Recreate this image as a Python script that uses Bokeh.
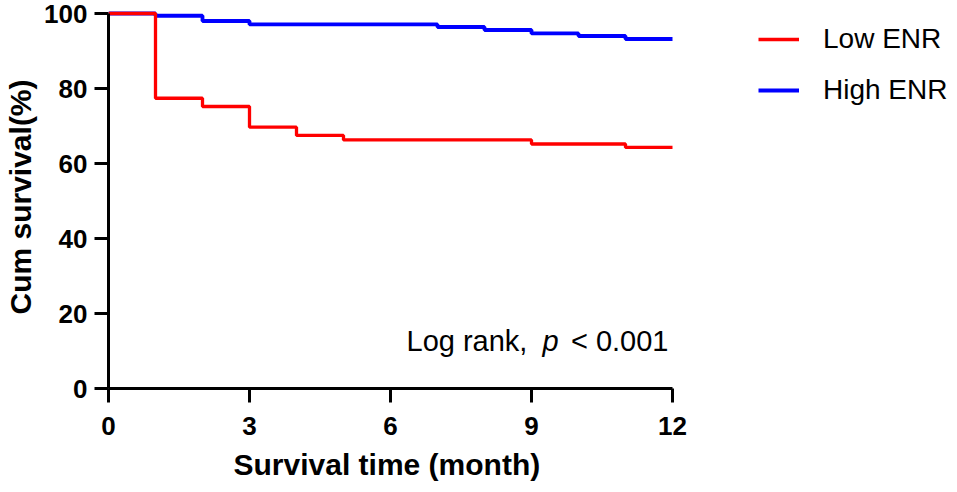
from bokeh.plotting import figure
from bokeh.models import Range1d, FixedTicker, Legend, LegendItem, Label, Title
from bokeh.embed import file_html
from bokeh.resources import INLINE

# Data
low_time = [0, 1, 2, 3, 4, 5, 9, 11, 12]
low_surv = [100, 77.4, 75.2, 69.7, 67.5, 66.3, 65.2, 64.3, 64.3]
high_time = [0, 1, 2, 3, 7, 8, 9, 10, 11, 12]
high_surv = [100, 99.4, 98.0, 97.1, 96.4, 95.6, 94.7, 94.0, 93.2, 93.2]
x_ticks = [0, 3, 6, 9, 12]
y_ticks = [0, 20, 40, 60, 80, 100]
series_names = ["Low ENR", "High ENR"]

FONT = "Liberation Sans"

W, H = 957, 490
LEFT, TOP, BOTTOM_Y = 108, 5, 388
AXIS_RIGHT = 672          # pixel where x = 12 sits
FRAME_RIGHT = 957
px_per_x = (AXIS_RIGHT - LEFT) / 12.0
x_end = (FRAME_RIGHT - LEFT) / px_per_x
y_end = 100 + (13 - TOP) / ((BOTTOM_Y - 13) / 100.0)

p = figure(width=W, height=H, output_backend="svg", toolbar_location=None,
           x_range=Range1d(0, x_end), y_range=Range1d(0, y_end),
           min_border_left=LEFT, min_border_right=W - FRAME_RIGHT,
           min_border_top=TOP, min_border_bottom=H - BOTTOM_Y)
p.outline_line_color = None
p.xgrid.visible = False
p.ygrid.visible = False

r_high = p.step(high_time, high_surv, mode="after", line_color="#0000FF", line_width=3.8)
r_low = p.step(low_time, low_surv, mode="after", line_color="#FF0000", line_width=3.3)

for ax in (p.xaxis[0], p.yaxis[0]):
    ax.axis_line_width = 3
    ax.axis_line_color = "black"
    ax.major_tick_line_width = 3
    ax.major_tick_line_color = "black"
    ax.major_tick_in = 0
    ax.major_tick_out = 14
    ax.minor_tick_line_color = None
    ax.major_label_text_font = FONT
    ax.major_label_text_font_style = "bold"
    ax.major_label_text_font_size = "26px"
    ax.major_label_text_color = "black"
    ax.axis_label_text_font = FONT
    ax.axis_label_text_font_style = "bold"
    ax.axis_label_text_font_size = "30px"
    ax.axis_label_text_color = "black"

p.xaxis.ticker = FixedTicker(ticks=x_ticks)
p.yaxis.ticker = FixedTicker(ticks=y_ticks)
p.xaxis.bounds = (0, 12)
p.yaxis.bounds = (0, 100)
p.yaxis.axis_label = "Cum survival(%)"
p.xaxis.major_label_standoff = 14
p.yaxis.major_label_standoff = 7
p.yaxis.axis_label_standoff = 4

xtitle = Title(text="Survival time (month)", align="left", offset=125,
               text_font=FONT, text_font_size="30px", text_font_style="bold",
               text_color="black", standoff=16)
p.add_layout(xtitle, "below")

legend = Legend(items=[LegendItem(label=series_names[0], renderers=[r_low]),
                       LegendItem(label=series_names[1], renderers=[r_high])],
                location=(650, 282), orientation="vertical")
legend.border_line_color = None
legend.background_fill_alpha = 0
legend.label_text_font = FONT
legend.label_text_font_size = "28px"
legend.label_text_color = "black"
legend.glyph_width = 41
legend.glyph_height = 30
legend.label_height = 30
legend.label_standoff = 24
legend.spacing = 19
legend.padding = 0
legend.margin = 0
p.add_layout(legend, "center")

lab_kw = dict(y=12.8, text_font=FONT, text_font_size="29px", text_color="black",
              text_baseline="alphabetic", x_units="screen")
l1 = Label(x=298, text="Log rank,", text_align="left", **lab_kw)
l2 = Label(x=434, text="p", text_font_style="italic", text_align="left", **lab_kw)
l3 = Label(x=560, text="< 0.001", text_align="right", **lab_kw)
for l in (l1, l2, l3):
    p.add_layout(l)

open("out.html", "w").write(file_html(p, INLINE))
